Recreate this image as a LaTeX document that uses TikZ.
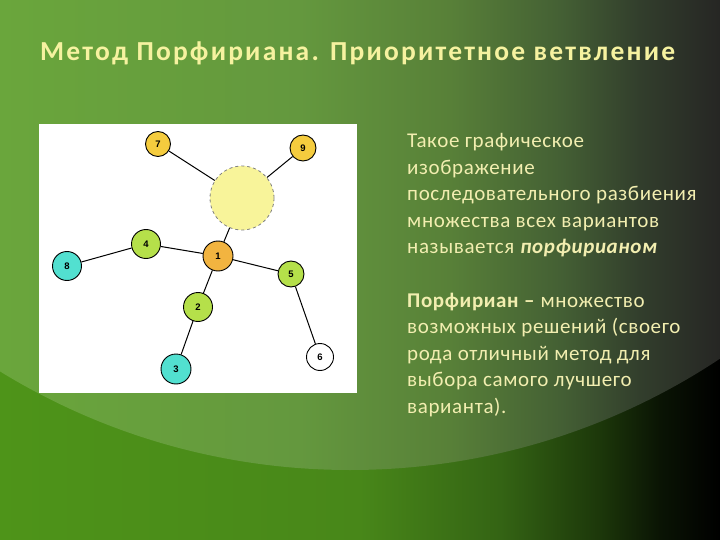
\documentclass[tikz,border=0pt]{standalone}
\usepackage{fontspec}
\setmainfont{Carlito}
\newfontfamily\labfont{Liberation Sans}
\newfontfamily\titfont[LetterSpace=8]{Carlito}
\newfontfamily\bodyfont[LetterSpace=3]{Carlito}
\pgfdeclarehorizontalshading{lowbg}{100bp}{rgb(0bp)=(0.306,0.58,0.098); rgb(25bp)=(0.306,0.58,0.098); rgb(50bp)=(0.282,0.529,0.098); rgb(59.72bp)=(0.204,0.392,0.078); rgb(66.67bp)=(0.11,0.216,0.039); rgb(70.83bp)=(0.039,0.078,0.016); rgb(75bp)=(0,0,0); rgb(100bp)=(0,0,0)}
\pgfdeclarehorizontalshading{upbg}{100bp}{rgb(0bp)=(0.416,0.651,0.235); rgb(25bp)=(0.416,0.651,0.235); rgb(45.83bp)=(0.392,0.596,0.243); rgb(56.25bp)=(0.345,0.502,0.22); rgb(63.89bp)=(0.267,0.376,0.204); rgb(69.44bp)=(0.196,0.243,0.173); rgb(75bp)=(0.149,0.149,0.141); rgb(100bp)=(0.149,0.149,0.141)}
\definecolor{txtc}{RGB}{242,238,176}
\definecolor{titc}{RGB}{246,242,160}
\definecolor{cyel}{RGB}{245,204,62}
\definecolor{cbig}{RGB}{248,244,154}
\definecolor{corg}{RGB}{242,180,64}
\definecolor{cgrn}{RGB}{181,224,74}
\definecolor{ccyn}{RGB}{82,224,208}
\tikzset{
  nd/.style={circle, draw=black, line width=0.9pt, inner sep=0pt, minimum size=26pt, font=\labfont\bfseries\fontsize{9.5}{9.5}\selectfont},
  edge/.style={draw=black, line width=1pt},
  body/.style={anchor=base west, inner sep=0pt, text=txtc, font=\bodyfont\fontsize{21}{24}\selectfont}
}
\begin{document}
\begin{tikzpicture}[x=1pt,y=-1pt]
\useasboundingbox (0,0) rectangle (720,540);
\shade[shading=lowbg] (0,0) rectangle (720,540);
\begin{scope}
\clip (350,-200) circle[radius=670pt];
\shade[shading=upbg] (0,0) rectangle (720,540);
\end{scope}
% title
\node[anchor=base west, inner sep=0pt, text=titc, font=\titfont\bfseries\fontsize{27.5}{30}\selectfont] (title) at (40,61) {Метод Порфириана. Приоритетное ветвление};
% diagram box
\fill[white] (39,124) rectangle (357,393);
\node[circle, fill=cbig, draw=gray, dashed, line width=0.8pt, minimum size=64pt, inner sep=0pt] (big) at (242,198) {};
\node[nd, fill=cyel, minimum size=25pt] (n7) at (158,144) {7};
\node[nd, fill=cyel, minimum size=26pt] (n9) at (303,148) {9};
\node[nd, fill=corg, minimum size=30pt] (n1) at (218,256) {1};
\node[nd, fill=cgrn, minimum size=29pt] (n4) at (146,244) {4};
\node[nd, fill=ccyn, minimum size=29pt] (n8) at (67,266) {8};
\node[nd, fill=cgrn, minimum size=26pt] (n5) at (291,274) {5};
\node[nd, fill=cgrn, minimum size=29pt] (n2) at (198,307) {2};
\node[nd, fill=ccyn, minimum size=30pt] (n3) at (176,369) {3};
\node[nd, fill=white, minimum size=27pt] (n6) at (320,357) {6};
\draw[edge] (n7) -- (big);
\draw[edge] (n9) -- (big);
\draw[edge] (big) -- (n1);
\draw[edge] (n1) -- (n4);
\draw[edge] (n4) -- (n8);
\draw[edge] (n1) -- (n2);
\draw[edge] (n2) -- (n3);
\draw[edge] (n1) -- (n5);
\draw[edge] (n5) -- (n6);
% right text
\node[body] (t1) at (407,148) {Такое графическое};
\node[body] (t2) at (407,174.5) {изображение};
\node[body] (t3) at (407,201) {последовательного разбиения};
\node[body] (t4) at (407,227.5) {множества всех вариантов};
\node[body] (t5) at (407,254) {называется \textbf{\textit{порфирианом}}};
\node[body] (t6) at (407,307) {\textbf{Порфириан –} множество};
\node[body] (t7) at (407,333.5) {возможных решений (своего};
\node[body] (t8) at (407,360) {рода отличный метод для};
\node[body] (t9) at (407,386.5) {выбора самого лучшего};
\node[body] (t10) at (407,413) {варианта).};
\end{tikzpicture}
\end{document}
